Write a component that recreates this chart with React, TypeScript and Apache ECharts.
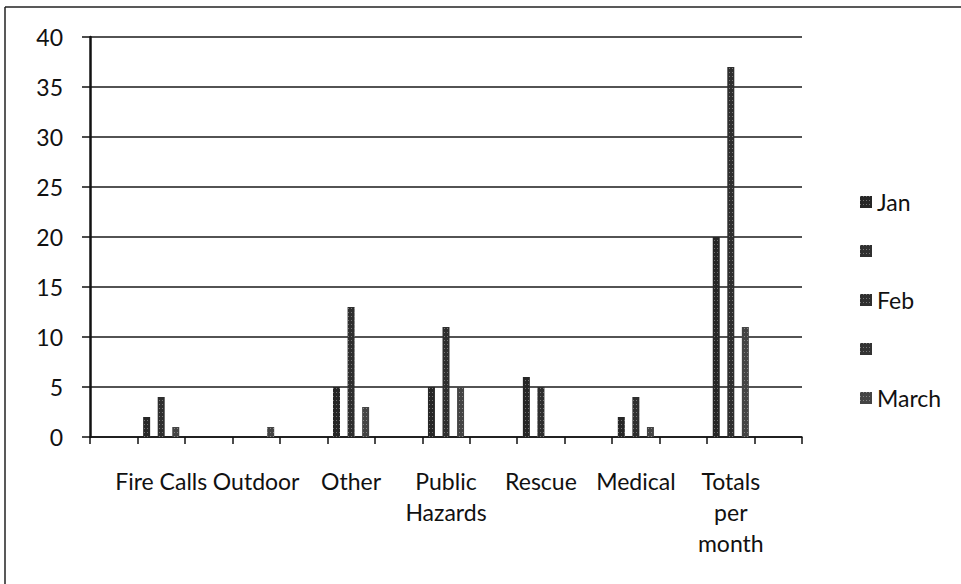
import React, { useEffect, useRef } from "react";
import * as echarts from "echarts";

// Real categories (placed at every other slot of the category axis, as in the original)
const categories = ["Fire Calls", "Outdoor", "Other", "Public Hazards", "Rescue", "Medical", "Totals per month"];
const tickLabels = ["Fire Calls", "Outdoor", "Other", "Public\nHazards", "Rescue", "Medical", "Totals\nper\nmonth"];
const seriesNames = ["Jan", " ", "Feb", "  ", "March"];
const janValues = [2, 0, 5, 5, 6, 2, 20];
const blank1Values = [0, 0, 0, 0, 0, 0, 0];
const febValues = [4, 0, 13, 11, 5, 4, 37];
const blank2Values = [0, 0, 0, 0, 0, 0, 0];
const marchValues = [1, 1, 3, 5, 0, 1, 11];
const yTicks = [0, 5, 10, 15, 20, 25, 30, 35, 40];

const seriesValues = [janValues, blank1Values, febValues, blank2Values, marchValues];
const seriesColors = ["#262626", "#303030", "#2e2e2e", "#333333", "#444444"];

const FONT = "Lato, 'Open Sans', sans-serif";

// 15 slots: empty slot, category, empty slot, category, ... , empty slot
const slotKeys: string[] = [];
const slotLabels: Record<string, string> = {};
for (let i = 0; i < categories.length; i++) {
  slotKeys.push("gap" + i);
  slotLabels["gap" + i] = "";
  slotKeys.push(categories[i]);
  slotLabels[categories[i]] = tickLabels[i];
}
slotKeys.push("gap" + categories.length);
slotLabels["gap" + categories.length] = "";

function toSlots(values: number[]) {
  const out: (number | string)[] = [];
  for (let i = 0; i < values.length; i++) {
    out.push("-");
    out.push(values[i]);
  }
  out.push("-");
  return out;
}

export default function App() {
  const ref = useRef<HTMLDivElement>(null);
  useEffect(() => {
    if (!ref.current) return;
    const chart = echarts.init(ref.current, null, { renderer: "svg" });
    chart.setOption({
      animation: false,
      backgroundColor: "#ffffff",
      textStyle: { fontFamily: FONT },
      grid: { left: 90, right: 159, top: 37, bottom: 147, containLabel: false },
      legend: {
        orient: "vertical",
        left: 855,
        top: 185,
        itemWidth: 12,
        itemHeight: 12,
        itemGap: 25,
        icon: "rect",
        data: seriesNames,
        textStyle: { fontFamily: FONT, fontSize: 23, color: "#111", lineHeight: 24 },
        selectedMode: false,
      },
      xAxis: {
        type: "category",
        data: slotKeys,
        boundaryGap: true,
        axisLine: { show: true, lineStyle: { color: "#111", width: 1.5 } },
        axisTick: { show: true, interval: 0, length: 7, lineStyle: { color: "#111", width: 1.5 } },
        axisLabel: {
          interval: 0,
          margin: 28,
          fontFamily: FONT,
          fontSize: 23,
          lineHeight: 31,
          color: "#111",
          formatter: (v: string) => slotLabels[v] ?? "",
        },
        splitLine: { show: false },
      },
      yAxis: {
        type: "value",
        min: yTicks[0],
        max: yTicks[yTicks.length - 1],
        interval: 5,
        axisLine: { show: true, lineStyle: { color: "#111", width: 2.5 } },
        axisTick: { show: true, length: 8, lineStyle: { color: "#111", width: 1.5 } },
        axisLabel: { margin: 27, fontFamily: FONT, fontSize: 23, color: "#111" },
        splitLine: { show: true, lineStyle: { color: "#1a1a1a", width: 1.5, type: "solid" } },
      },
      series: seriesNames.map((name, i) => ({
        name,
        type: "bar",
        data: toSlots(seriesValues[i]),
        barWidth: 7,
        barGap: "4%",
        itemStyle: {
          color: seriesColors[i],
          decal: {
            symbol: "rect",
            symbolSize: 1,
            color: "rgba(255,255,255,0.35)",
            dashArrayX: [1, 2],
            dashArrayY: [1, 3],
            rotation: 0,
          },
        },
      })),
      graphic: [
        { type: "line", shape: { x1: 5, y1: 7, x2: 961, y2: 7 }, style: { stroke: "#222", lineWidth: 1.5 } },
        { type: "line", shape: { x1: 5, y1: 7, x2: 5, y2: 584 }, style: { stroke: "#222", lineWidth: 1.5 } },
      ],
    });
    return () => chart.dispose();
  }, []);
  return (
    <div
      ref={ref}
      style={{ position: "absolute", left: 0, top: 0, width: 961, height: 584, background: "#fff" }}
    />
  );
}
